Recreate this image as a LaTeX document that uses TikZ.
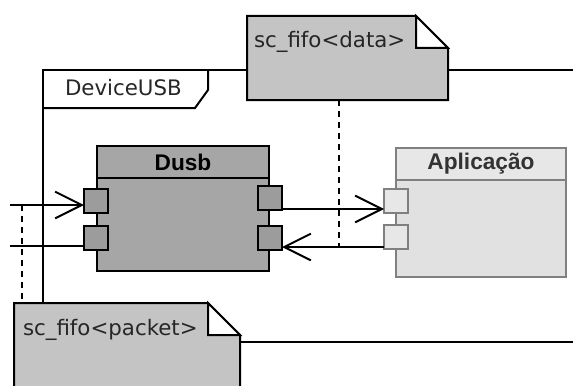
\documentclass[tikz,border=0pt]{standalone}
\usepackage{fontspec}
\setmainfont{DejaVu Sans}
\newfontfamily\titlefont{Liberation Sans}
\usetikzlibrary{arrows.meta}

\definecolor{dusbGray}{RGB}{166,166,166}
\definecolor{dusbPort}{RGB}{156,156,156}
\definecolor{fifoGray}{RGB}{196,196,196}
\definecolor{appGray}{RGB}{225,225,225}
\definecolor{appHead}{RGB}{231,231,231}
\definecolor{appEdge}{RGB}{128,128,128}

\tikzset{every picture/.style={line width=1.5pt}}
\tikzset{
  box/.style={inner sep=0pt, outer sep=0pt},
  dusbbox/.style={box, draw, fill=dusbGray, minimum width=129pt},
  appbox/.style={box, draw=appEdge, fill=appGray, minimum width=127.5pt},
  port/.style={box, draw, fill=dusbPort, minimum size=18pt},
  appport/.style={box, draw=appEdge, fill=appHead, minimum size=18pt},
  note/.style={box},
  notefill/.style={draw, fill=fifoGray},
  txt/.style={inner sep=0pt, text=black!85, font=\fontsize{16}{19}\selectfont},
  blocktitle/.style={font=\titlefont\bfseries\fontsize{17}{20}\selectfont},
  barb/.style={-{Straight Barb[length=20pt,width=20pt]}},
  dashline/.style={dash pattern=on 4.5pt off 3.75pt},
}

\begin{document}
\begin{tikzpicture}[x=0.75pt,y=0.75pt,yscale=-1]
\useasboundingbox (0,0) rectangle (573,385);
\clip (0,0) rectangle (573,385);

\node[note, minimum width=150.75pt, minimum height=63pt] (fifoData) at (347.5,58) {};
\node[note, minimum width=169.5pt, minimum height=69pt] (fifoPacket) at (127,349) {};

\coordinate (frameNW) at (43,70);
\coordinate (frameNE) at (573,70);
\coordinate (frameSE) at (573,342);
\draw (fifoPacket.north -| frameNW) -- (frameNW) -- (frameNW -| fifoData.west);
\draw (frameNW -| fifoData.east) -- (frameNE);
\draw (frameSE -| fifoPacket.east) -- (frameSE);
\draw (43,108) -- (195,108) -- (208,90) -- (208,70);
\node[txt, anchor=base west] (frameName) at (64,95) {DeviceUSB};

\draw[notefill] (fifoData.south west) -- (fifoData.north west) -- ([xshift=-24pt]fifoData.north east) -- ([yshift=24pt]fifoData.north east) -- (fifoData.south east) -- cycle;
\draw[fill=white] ([xshift=-24pt]fifoData.north east) |- ([yshift=24pt]fifoData.north east) -- cycle;
\node[txt, anchor=base west] (fifoDataName) at (253,48) {sc\_fifo<data>};

\draw[notefill] (fifoPacket.south west) -- (fifoPacket.north west) -- ([xshift=-24pt]fifoPacket.north east) -- ([yshift=24pt]fifoPacket.north east) -- (fifoPacket.south east) -- cycle;
\draw[fill=white] ([xshift=-24pt]fifoPacket.north east) |- ([yshift=24pt]fifoPacket.north east) -- cycle;
\node[txt, anchor=base west] (fifoPacketName) at (22,335) {sc\_fifo<packet>};

\node[dusbbox, minimum height=93.75pt] (dusb) at (183,208.5) {};
\node[dusbbox, blocktitle, minimum height=24pt, anchor=north] (dusbHead) at (dusb.north) {Dusb};
\node[appbox, minimum height=96.75pt] (app) at (481,212.5) {};
\node[appbox, blocktitle, fill=appHead, text=black!80, minimum height=24pt, anchor=north] (appHead) at (app.north) {Aplicação};

\node[port] (dusbInA) at (96,201) {};
\node[port] (dusbInB) at (96,237.5) {};
\node[port] (dusbOutA) at (270,197.5) {};
\node[port] (dusbOutB) at (270,237.5) {};
\node[appport] (appInA) at (396,201) {};
\node[appport] (appInB) at (396,236.5) {};

\coordinate (srcA) at (10,205);
\coordinate (srcB) at (10,246);
\draw[barb] (srcA) -- (srcA -| dusbInA.west);
\draw (srcB) -- (srcB -| dusbInB.west);
\draw[barb] (dusbOutA.east |- 0,209) -- (appInA.west |- 0,209);
\draw[barb] (appInB.west |- 0,247) -- (dusbOutB.east |- 0,247);

\coordinate (tapA) at (22,205);
\coordinate (tapB) at (339,247);
\draw[dashline] (tapA) -- (tapA |- fifoPacket.north);
\draw[dashline] (tapB |- fifoData.south) -- (tapB);

\end{tikzpicture}
\end{document}
